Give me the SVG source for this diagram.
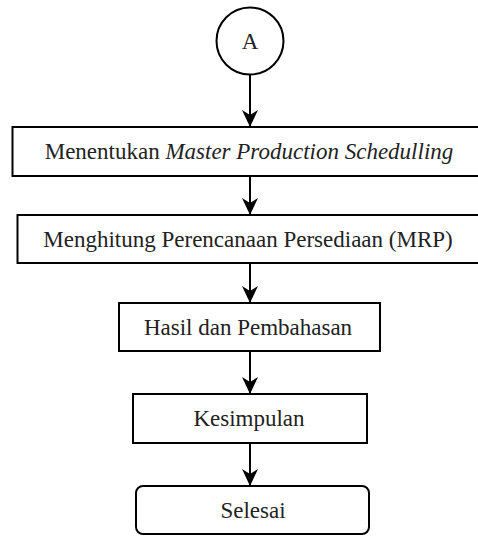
<svg xmlns="http://www.w3.org/2000/svg" width="478" height="536" viewBox="0 0 478 536">
<defs>
<style>
.box{fill:#fff;stroke:#000;stroke-width:2}
.t{font-family:"Liberation Serif","Times New Roman",serif;font-size:23px;fill:#222;text-anchor:middle}
.c{stroke:#000;stroke-width:2;fill:none}
</style>
<marker id="ah" markerWidth="17" markerHeight="16" refX="17" refY="8" orient="auto" markerUnits="userSpaceOnUse" viewBox="0 0 17 16">
<path d="M0,0 L17,8 L0,16 L5,8 Z" fill="#000"/>
</marker>
</defs>
<rect width="478" height="536" fill="#fff"/>
<g id="connectors">
<line class="c" x1="250" y1="75" x2="250" y2="127" marker-end="url(#ah)"/>
<line class="c" x1="250" y1="176" x2="250" y2="215" marker-end="url(#ah)"/>
<line class="c" x1="250" y1="263" x2="250" y2="303" marker-end="url(#ah)"/>
<line class="c" x1="250" y1="351" x2="250" y2="394" marker-end="url(#ah)"/>
<line class="c" x1="250" y1="443" x2="250" y2="486" marker-end="url(#ah)"/>
</g>
<g id="nodeA">
<circle class="box" cx="250" cy="41" r="33.5"/>
<text class="t" x="250" y="49">A</text>
</g>
<g id="node1">
<rect class="box" x="12.5" y="127" width="470" height="49"/>
<text class="t" x="249" y="159">Menentukan <tspan font-style="italic">Master Production Schedulling</tspan></text>
</g>
<g id="node2">
<rect class="box" x="17.5" y="215" width="470" height="48"/>
<text class="t" x="248" y="247">Menghitung Perencanaan Persediaan (MRP)</text>
</g>
<g id="node3">
<rect class="box" x="119" y="303" width="261" height="48"/>
<text class="t" x="248" y="335">Hasil dan Pembahasan</text>
</g>
<g id="node4">
<rect class="box" x="133" y="394" width="234" height="49"/>
<text class="t" x="249" y="426">Kesimpulan</text>
</g>
<g id="node5">
<rect class="box" x="136" y="486" width="233" height="48" rx="7" ry="7"/>
<text class="t" x="253" y="518">Selesai</text>
</g>
</svg>
